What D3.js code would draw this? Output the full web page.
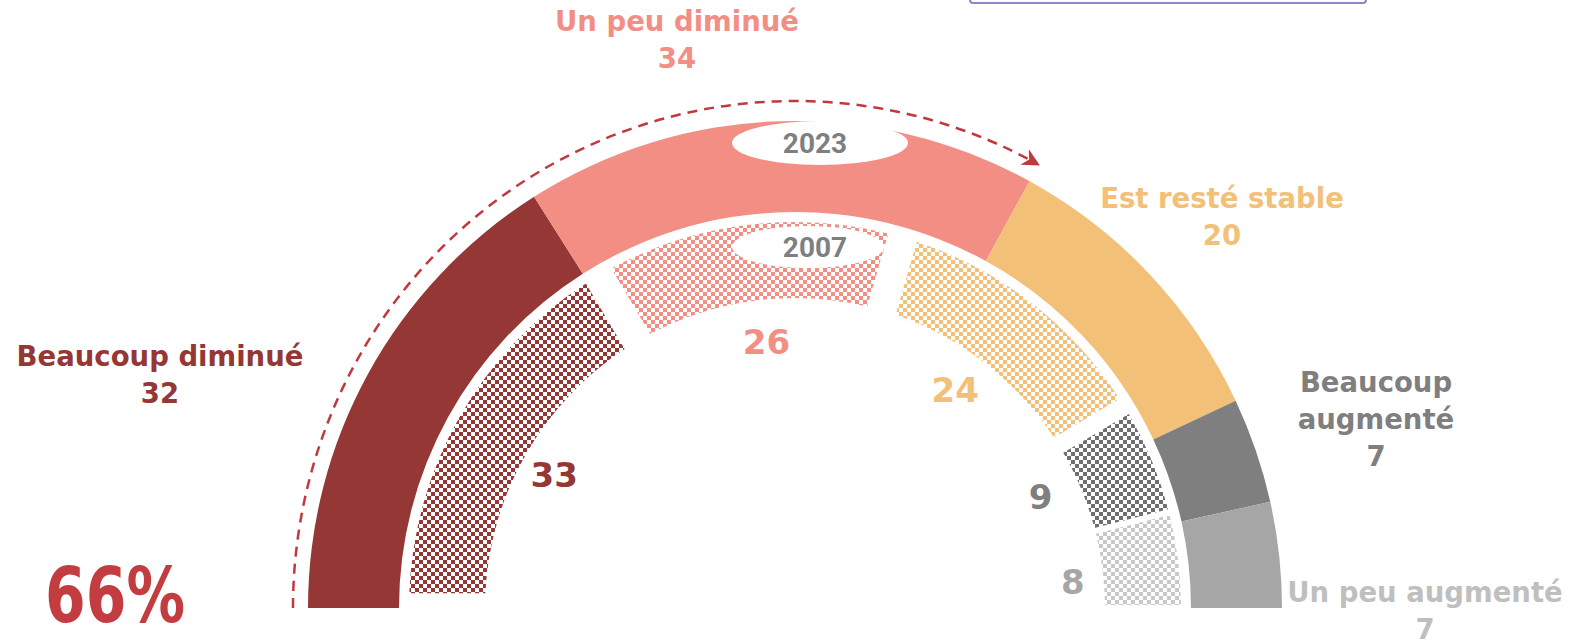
<!DOCTYPE html>
<html>
<head>
<meta charset="utf-8">
<script src="https://cdn.jsdelivr.net/npm/d3@7"></script>
<style>
  body { margin: 0; background: #fff; }
  svg { display: block; }
</style>
</head>
<body>
<svg id="chart"></svg>
<script>
// data
var categories = ["Beaucoup diminué", "Un peu diminué", "Est resté stable", "Beaucoup augmenté", "Un peu augmenté"];
var values2023 = [32, 34, 20, 7, 7];
var values2007 = [33, 26, 24, 9, 8];
var years = ["2023", "2007"];
var totalDown = "66%";

var colors = ["#953735", "#F28E84", "#F3C077", "#7F7F7F", "#A6A6A6"];
var hatchColors = ["#953735", "#F28E84", "#F3C077", "#6F6F6F", "#C8C8C8"];
var valueColors = ["#953735", "#F28E84", "#F3C077", "#7F7F7F", "#A6A6A6"];
var labelColors = ["#953735", "#F28E84", "#F3C077", "#7F7F7F", "#BFBFBF"];

var width = 1576, height = 644;
var cx = 795, cy = 608;

var svg = d3.select('#chart')
    .attr("width", width)
    .attr("height", height);

// checker patterns
var defs = svg.append("defs");
hatchColors.forEach(function(c, i) {
    var p = defs.append("pattern")
        .attr("id", "chk" + i)
        .attr("patternUnits", "userSpaceOnUse")
        .attr("width", 8).attr("height", 8);
    p.append("rect").attr("width", 4).attr("height", 4).attr("fill", c);
    p.append("rect").attr("x", 4).attr("y", 4).attr("width", 4).attr("height", 4).attr("fill", c);
});

// purple box at the top (cut off)
svg.append("rect")
    .attr("x", 970).attr("y", -40)
    .attr("width", 396).attr("height", 43)
    .attr("rx", 3)
    .attr("fill", "#fff")
    .attr("stroke", "#8B89C6")
    .attr("stroke-width", 2);

var pie = d3.pie()
    .sort(null)
    .startAngle(-Math.PI / 2)
    .endAngle(Math.PI / 2);

var g = svg.append("g").attr("transform", "translate(" + cx + "," + cy + ")");

// outer ring: 2023
var arcOuter = d3.arc().innerRadius(396).outerRadius(487);
g.selectAll("path.outer")
    .data(pie(values2023))
    .enter()
    .append("path")
    .attr("class", "outer")
    .attr("d", arcOuter)
    .attr("fill", function(d, i) { return colors[i]; });

// inner ring: 2007
var arcInner = d3.arc()
    .innerRadius(310)
    .outerRadius(386)
    .padAngle(function(d) { return d.index >= 3 ? 0.012 : 0.06; });
var innerData = pie(values2007).map(function(d, i) { d.index = i; return d; });
g.selectAll("path.inner")
    .data(innerData)
    .enter()
    .append("path")
    .attr("class", "inner")
    .attr("d", arcInner)
    .attr("fill", function(d, i) { return "url(#chk" + i + ")"; });

// inner values
var arcVal = d3.arc().innerRadius(268).outerRadius(268);
var valShift = [[-8, 0], [5, 0], [-4, -6], [-2, -8], [12, 8]];
g.selectAll("text.val")
    .data(innerData)
    .enter()
    .append("text")
    .attr("class", "val")
    .attr("transform", function(d, i) {
        var c = arcVal.centroid(d);
        return "translate(" + (c[0] + valShift[i][0]) + "," + (c[1] + 12 + valShift[i][1]) + ")";
    })
    .attr("text-anchor", "middle")
    .style("font-family", "DejaVu Sans, sans-serif")
    .style("font-weight", "bold")
    .style("font-size", "34px")
    .style("fill", function(d, i) { return valueColors[i]; })
    .text(function(d) { return d.data; });

// year ellipses
var yearPos = [[820, 143, 88, 22], [808, 247, 76, 21]];
years.forEach(function(y, i) {
    var p = yearPos[i];
    svg.append("ellipse")
        .attr("cx", p[0]).attr("cy", p[1])
        .attr("rx", p[2]).attr("ry", p[3])
        .attr("fill", "#fff");
    svg.append("text")
        .attr("x", 815).attr("y", p[1] + 10)
        .attr("text-anchor", "middle")
        .style("font-family", "Roboto, Liberation Sans, sans-serif")
        .style("font-weight", "bold")
        .style("font-size", "28px")
        .style("fill", "#7F7F7F")
        .text(y);
});

// dashed arrow arc over the "down" share
var downShare = (values2023[0] + values2023[1]) / d3.sum(values2023);
var aStart = -Math.PI / 2, aEnd = -Math.PI / 2 + Math.PI * downShare;
var rDash = 502;
var dashPath = d3.path();
dashPath.arc(0, 0, rDash, aStart - Math.PI / 2, aEnd - Math.PI / 2, false);

defs.append("marker")
    .attr("id", "arrow")
    .attr("viewBox", "0 0 10 10")
    .attr("refX", 8).attr("refY", 5)
    .attr("markerWidth", 7).attr("markerHeight", 7)
    .attr("orient", "auto")
    .append("path")
    .attr("d", "M0,0 L10,5 L0,10 L3,5 Z")
    .attr("fill", "#C0393F");

g.append("path")
    .attr("transform", "scale(1,1.01)")
    .attr("d", dashPath.toString())
    .attr("fill", "none")
    .attr("stroke", "#C0393F")
    .attr("stroke-width", 2.5)
    .attr("stroke-dasharray", "10,7")
    .attr("marker-end", "url(#arrow)");

// category labels
var labelPos = [[160, 366], [677, 31], [1222, 208], [1376, 392], [1425, 602]];
var labelLines = [
    [categories[0]],
    [categories[1]],
    [categories[2]],
    ["Beaucoup", "augmenté"],
    [categories[4]]
];
values2023.forEach(function(v, i) {
    var t = svg.append("text")
        .attr("text-anchor", "middle")
        .style("font-family", "DejaVu Sans, sans-serif")
        .style("font-weight", "bold")
        .style("font-size", "27.5px")
        .style("fill", labelColors[i]);
    var lines = labelLines[i].concat([String(v)]);
    lines.forEach(function(l, j) {
        t.append("tspan")
            .attr("x", labelPos[i][0])
            .attr("y", labelPos[i][1] + j * 37)
            .text(l);
    });
});

// big percentage
svg.append("text")
    .attr("x", 45).attr("y", 622)
    .attr("textLength", 140)
    .attr("lengthAdjust", "spacingAndGlyphs")
    .style("font-family", "DejaVu Sans, sans-serif")
    .style("font-weight", "bold")
    .style("font-size", "76px")
    .style("fill", "#C33C40")
    .text(totalDown);
</script>
</body>
</html>
